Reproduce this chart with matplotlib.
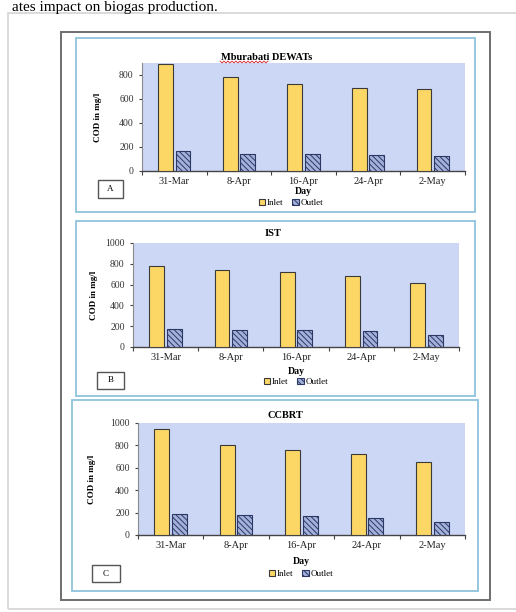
import matplotlib.pyplot as plt
import numpy as np
from matplotlib.patches import Rectangle, Patch
from matplotlib.lines import Line2D

plt.rcParams['font.family'] = 'Liberation Serif'

days = ['31-Mar', '8-Apr', '16-Apr', '24-Apr', '2-May']
mbu_inlet = [890, 783, 728, 694, 686]
mbu_outlet = [167, 144, 142, 131, 122]
ist_inlet = [776, 744, 721, 679, 619]
ist_outlet = [176, 167, 160, 151, 112]
ccbrt_inlet = [949, 806, 761, 725, 648]
ccbrt_outlet = [188, 176, 170, 155, 119]

W, H = 516, 612


def fbox(x0, y0, x1, y1):
    # pixel box -> figure fraction [left, bottom, width, height]
    return [x0 / W, 1 - y1 / H, (x1 - x0) / W, (y1 - y0) / H]


def frame(x0, y0, x1, y1, color, lw):
    l, b, w, h = fbox(x0, y0, x1, y1)
    fig.patches.append(Rectangle((l, b), w, h, transform=fig.transFigure,
                                 fill=False, edgecolor=color, linewidth=lw))


fig = plt.figure(figsize=(W / 100, H / 100), dpi=100)
fig.patch.set_facecolor('white')

# page text above the figure
fig.text(12 / W, 1 - 0.5 / H, 'ates impact on biogas production.', fontsize=11,
         va='top', ha='left', color='black')

frame(8, 13, 530, 609, '#d4d4d4', 1.2)
frame(61, 32, 490, 600, '#6e6e6e', 1.4)

panels = [
    dict(title='Mburabati DEWATs', inlet=mbu_inlet, outlet=mbu_outlet,
         ymax=900, yt=[0, 200, 400, 600, 800], letter='A',
         plot=(142, 63, 465, 171), panel=(76, 38, 475, 212),
         lbox=(98, 180, 123, 198), title_y=57, title_x=267, ylab_x=98,
         day_y=191, leg_x=291, leg_y=203),
    dict(title='IST', inlet=ist_inlet, outlet=ist_outlet,
         ymax=1000, yt=[0, 200, 400, 600, 800, 1000], letter='B',
         plot=(133, 243, 459, 347), panel=(76, 221, 475, 396),
         lbox=(97, 372, 124, 389), title_y=234, title_x=273, ylab_x=94,
         day_y=371, leg_x=296, leg_y=382),
    dict(title='CCBRT', inlet=ccbrt_inlet, outlet=ccbrt_outlet,
         ymax=1000, yt=[0, 200, 400, 600, 800, 1000], letter='C',
         plot=(138, 423, 465, 535), panel=(72, 400, 478, 591),
         lbox=(92, 565, 120, 582), title_y=415, title_x=285, ylab_x=92,
         day_y=562, leg_x=301, leg_y=574),
]

x = np.arange(len(days))
bw = 0.23
inlet_col = '#fdd766'
outlet_col = '#a3b1da'
edge = '#3a3a3a'
hatch_col = '#2b3866'
plt.rcParams['hatch.color'] = hatch_col
plt.rcParams['hatch.linewidth'] = 0.7

for p in panels:
    frame(*p['panel'], '#8fc3de', 1.3)
    frame(*p['lbox'], '#555555', 1.0)
    lx0, ly0, lx1, ly1 = p['lbox']
    fig.text((lx0 + lx1) / 2 / W, 1 - (ly0 + ly1) / 2 / H, p['letter'],
             ha='center', va='center', fontsize=6.5)

    ax = fig.add_axes(fbox(*p['plot']))
    ax.set_facecolor('#ccd7f5')
    ax.bar(x - 0.135, p['inlet'], bw, color=inlet_col, edgecolor=edge,
           linewidth=0.8, zorder=3)
    ax.bar(x + 0.135, p['outlet'], bw, color=outlet_col, edgecolor=hatch_col,
           linewidth=0.8, hatch='\\\\\\\\\\\\', zorder=3)
    ax.set_xlim(-0.5, len(days) - 0.5)
    ax.set_ylim(0, p['ymax'])
    ax.set_yticks(p['yt'])
    ax.set_xticks(x)
    ax.set_xticklabels(days)
    ax.set_xticks(np.arange(len(days) + 1) - 0.5, minor=True)
    ax.tick_params(axis='x', which='major', length=0, labelsize=7.5,
                   pad=4.5, colors='#222222')
    ax.tick_params(axis='x', which='minor', length=3, width=0.8, color='#444444')
    ax.tick_params(axis='y', length=2.5, width=0.8, labelsize=7,
                   colors='#444444', labelcolor='#333333')
    for s in ['top', 'right']:
        ax.spines[s].set_visible(False)
    ax.spines['left'].set_color('#8a8a8a')
    ax.spines['left'].set_linewidth(0.8)
    ax.spines['bottom'].set_color('#444444')
    ax.spines['bottom'].set_linewidth(1.0)

    px0, py0, px1, py1 = p['plot']
    fig.text(p['title_x'] / W, 1 - p['title_y'] / H, p['title'], ha='center',
             va='center', fontsize=7.5, fontweight='bold')
    fig.text(p['ylab_x'] / W, 1 - (py0 + py1) / 2 / H, 'COD in mg/l',
             rotation=90, ha='center', va='center', fontsize=6.5,
             fontweight='bold')
    fig.text((px0 + px1) / 2 / W, 1 - p['day_y'] / H, 'Day', ha='center',
             va='center', fontsize=7, fontweight='bold')
    handles = [Patch(facecolor=inlet_col, edgecolor=edge, linewidth=0.8),
               Patch(facecolor=outlet_col, edgecolor=hatch_col, linewidth=0.8,
                     hatch='\\\\\\\\\\\\')]
    fig.legend(handles, ['Inlet', 'Outlet'], loc='center',
               bbox_to_anchor=(p['leg_x'] / W, 1 - p['leg_y'] / H),
               ncol=2, frameon=False, fontsize=6.5, handlelength=0.7,
               handleheight=0.7, handletextpad=0.2, columnspacing=1.0,
               borderpad=0)

# red spell-check squiggle under "Mburabati"
sx = np.linspace(220 / W, 268 / W, 25)
sy = 1 - 62 / H + 0.0015 * np.tile([1, -1], 13)[:25]
fig.lines.append(Line2D(sx, sy, transform=fig.transFigure, color='#d02020',
                        linewidth=0.6))

fig.savefig('out.png', dpi=100)
